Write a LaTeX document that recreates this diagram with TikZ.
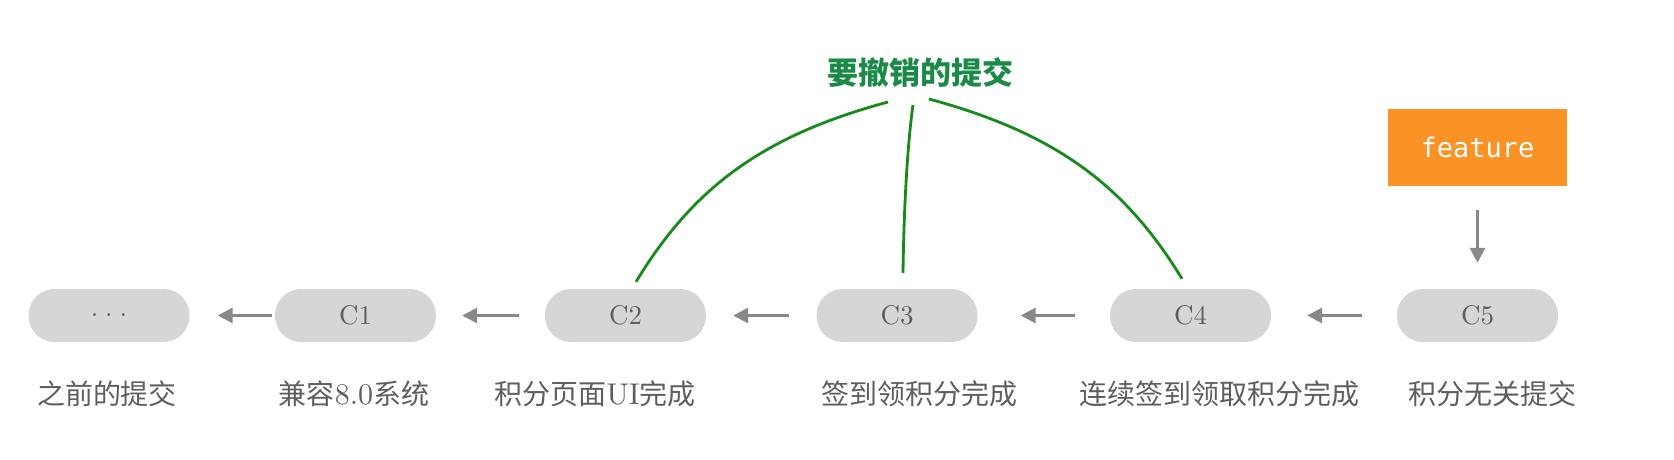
\documentclass[tikz,border=0pt]{standalone}
\usepackage{fontspec}
\setmainfont{lmroman10-regular.otf}
\newfontfamily\cjk{Noto Sans CJK SC}
\newfontfamily\monofnt{DejaVu Sans Mono}
\usetikzlibrary{arrows.meta}
\definecolor{boxgray}{HTML}{D6D6D6}
\definecolor{txtgray}{HTML}{5E5E5E}
\definecolor{arrgray}{HTML}{888888}
\definecolor{featorange}{HTML}{FB9226}
\definecolor{titlegreen}{HTML}{1B8A47}
\definecolor{linegreen}{HTML}{168A1C}
\begin{document}
\begin{tikzpicture}[x=1pt,y=-1pt,
  commit/.style={fill=boxgray,draw=none,rounded corners=26pt,minimum width=161pt,minimum height=53pt,inner sep=0pt,text=txtgray,font=\fontsize{27}{31}\selectfont},
  lbl/.style={text=txtgray,inner sep=0pt,font=\fontsize{28}{32}\selectfont},
  arr/.style={draw=arrgray,line width=3pt,-{Triangle[length=15pt,width=15pt]}},
  revert/.style={draw=linegreen,line width=2.8pt}]
\useasboundingbox (0,0) rectangle (1674,460);
\node[commit] (c0) at (109,315.5) {.\hspace{0.25em}.\hspace{0.25em}.};
\node[commit] (c1) at (355.5,315.5) {C1};
\node[commit] (c2) at (625.5,315.5) {C2};
\node[commit] (c3) at (897,315.5) {C3};
\node[commit] (c4) at (1190.5,315.5) {C4};
\node[commit] (c5) at (1477.5,315.5) {C5};
\node[fill=featorange,minimum width=179pt,minimum height=77pt,inner sep=0pt,text=white,font=\monofnt\fontsize{27}{31}\selectfont] (feat) at (1477.5,147.5) {feature};
\node[text=titlegreen,inner sep=0pt,font=\cjk\bfseries\fontsize{31}{35}\selectfont] (title) at (920,73) {要撤销的提交};
\node[lbl] (l0) at (107,394) {\cjk 之前的提交};
\node[lbl] (l1) at (354,394) {{\cjk 兼容}{\fontsize{30}{34}\selectfont 8.0}{\cjk 系统}};
\node[lbl] (l2) at (595,394) {{\cjk 积分页面}{\fontsize{30}{34}\selectfont UI}{\cjk 完成}};
\node[lbl] (l3) at (919,394) {\cjk 签到领积分完成};
\node[lbl] (l4) at (1219,394) {\cjk 连续签到领取积分完成};
\node[lbl] (l5) at (1492,394) {\cjk 积分无关提交};
\draw[arr,shorten <=3pt,shorten >=28pt] (c1) -- (c0);
\draw[arr,shorten <=26pt,shorten >=26pt] (c2) -- (c1);
\draw[arr,shorten <=27pt,shorten >=27pt] (c3) -- (c2);
\draw[arr,shorten <=35pt,shorten >=43pt] (c4) -- (c3);
\draw[arr,shorten <=35pt,shorten >=36pt] (c5) -- (c4);
\draw[arr,shorten <=24pt,shorten >=26pt] (feat) -- (c5);
\coordinate (t1) at (888,102);
\coordinate (t2) at (913,105);
\coordinate (t3) at (929,99);
\draw[revert] (t1) .. controls (762,136) and (693,188) .. ([shift={(10.5,-7)}]c2.north);
\draw[revert] (t2) .. controls (908,140) and (904,200) .. ([shift={(6,-16)}]c3.north);
\draw[revert] (t3) .. controls (1055,133) and (1125,185) .. ([shift={(-8.5,-10)}]c4.north);
\end{tikzpicture}
\end{document}
